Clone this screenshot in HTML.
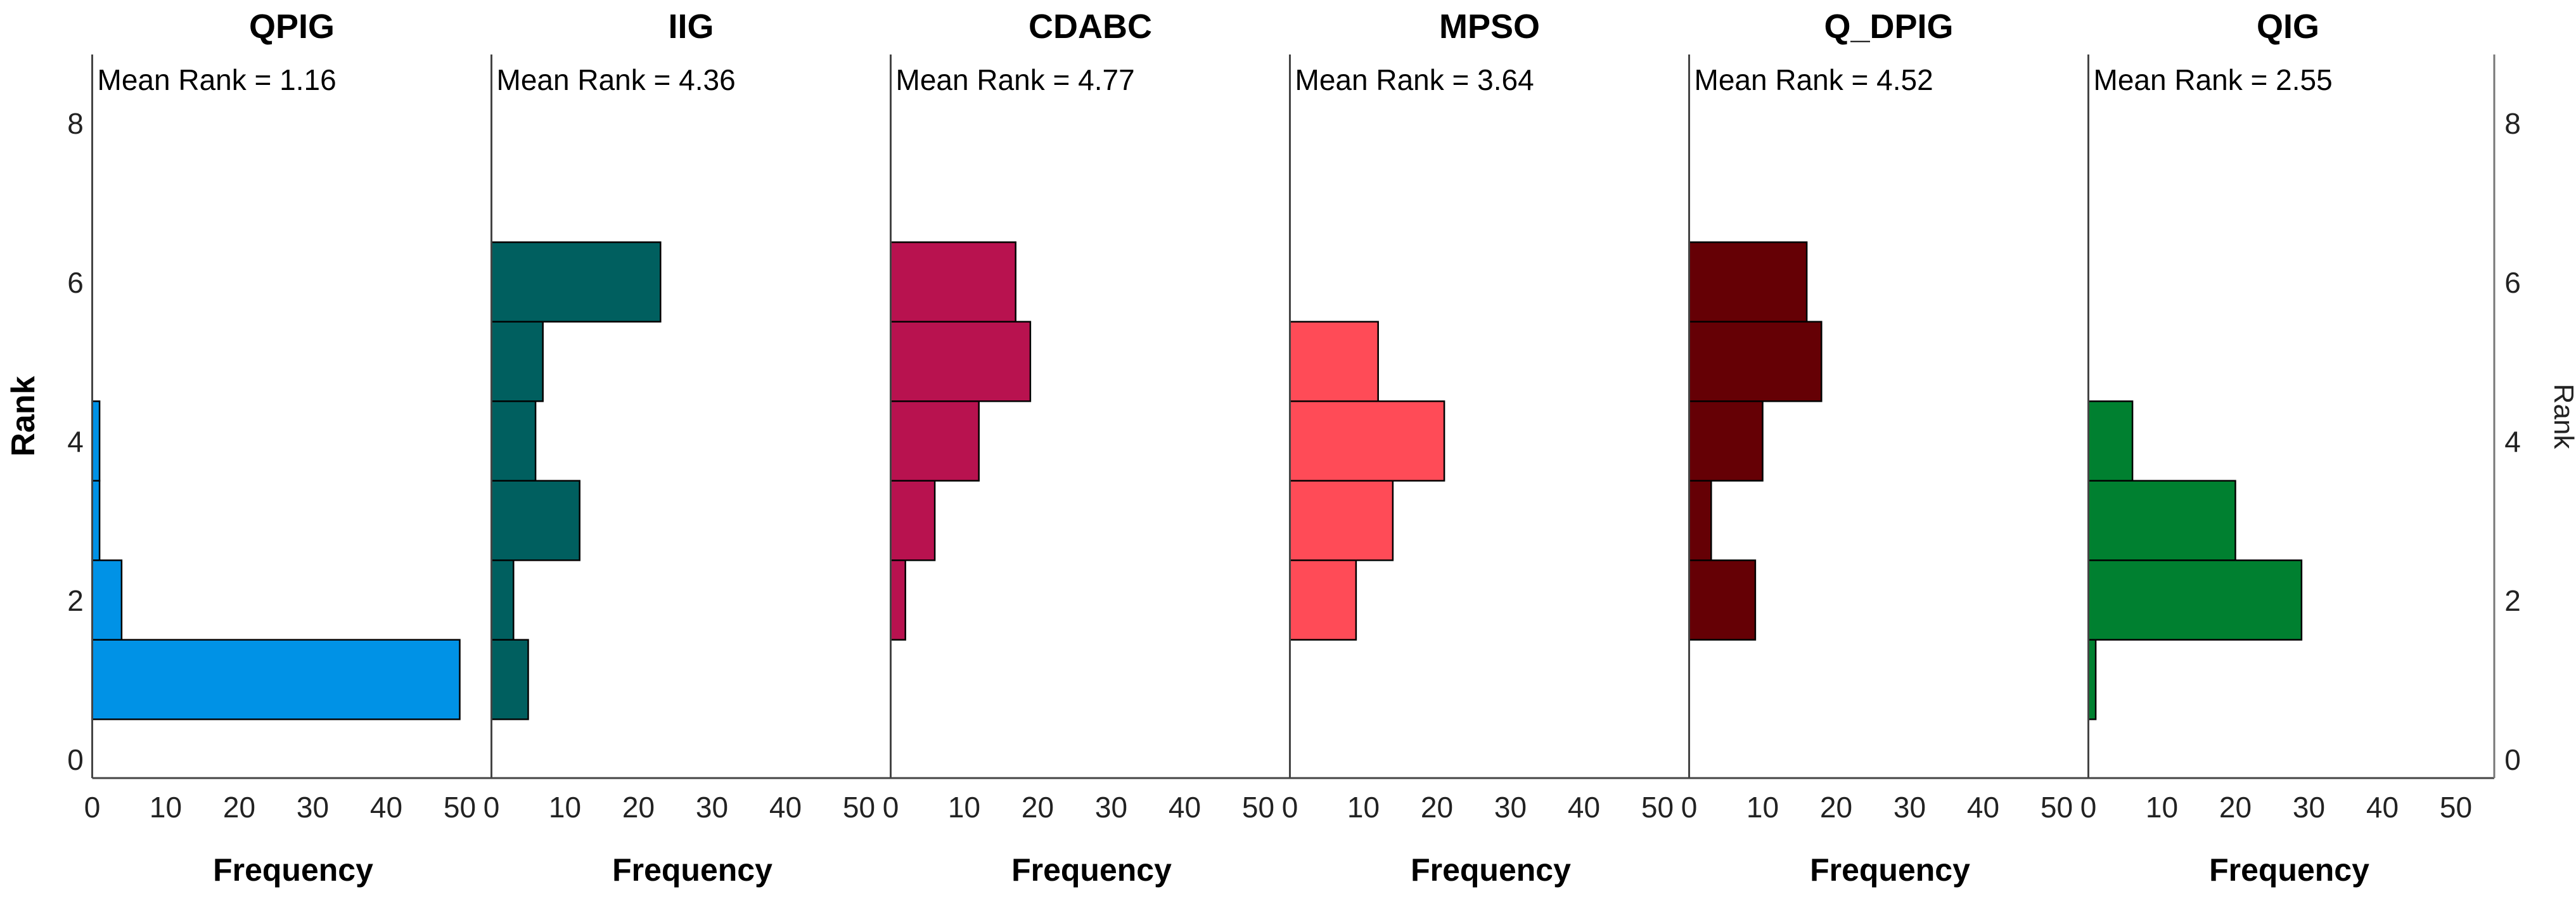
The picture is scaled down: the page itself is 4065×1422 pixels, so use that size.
<!DOCTYPE html>
<html><head><meta charset="utf-8"><style>
html,body{margin:0;padding:0;background:#fff;}
svg{display:block;font-family:"Liberation Sans",sans-serif;}
</style></head><body>
<svg id="chart" width="4065" height="1422" viewBox="0 0 4065 1422" xmlns="http://www.w3.org/2000/svg"></svg>
<script>
const methods = ["QPIG","IIG","CDABC","MPSO","Q_DPIG","QIG"];
const meanRanks = ["1.16","4.36","4.77","3.64","4.52","2.55"];
const colors = ["#0092e6","#005f5f","#b8124f","#ff4b57","#650005","#008030"];
const ranks = [1,2,3,4,5,6];
const freqQPIG = [50,4,1,1,0,0];
const freqIIG = [5,3,12,6,7,23];
const freqCDABC = [0,2,6,12,19,17];
const freqMPSO = [0,9,14,21,12,0];
const freqQDPIG = [0,9,3,10,18,16];
const freqQIG = [1,29,20,6,0,0];
const xTicks = [0,10,20,30,40,50];
const yTicks = [0,2,4,6,8];

const series = [freqQPIG,freqIIG,freqCDABC,freqMPSO,freqQDPIG,freqQIG];
const svg = document.getElementById('chart');
const NS = "http://www.w3.org/2000/svg";
const panelX0 = 145.5, panelStep = 630, pxPerUnit = 11.6;
const rankY0 = 1198, pxPerRank = 125.5;
const axisTop = 86, axisBottom = 1228, rightAxisX = 3936;
function xs(i, v){ return panelX0 + i*panelStep + v*pxPerUnit; }
function ys(r){ return rankY0 - r*pxPerRank; }
function mk(tag, attrs, text){
  const e = document.createElementNS(NS, tag);
  for (const k in attrs) e.setAttribute(k, attrs[k]);
  if (text !== undefined) e.textContent = text;
  svg.appendChild(e);
  return e;
}
let e;
series.forEach((vals, i) => {
  vals.forEach((v, j) => {
    if (v <= 0) return;
    e = mk('rect', {x: xs(i,0), y: ys(ranks[j]+0.5), width: xs(i,v)-xs(i,0), height: pxPerRank, fill: colors[i], stroke: '#000', 'stroke-width': 2.5});
    
    
  });
});
methods.forEach((m, i) => {
  e = mk('line', {x1: xs(i,0), x2: xs(i,0), y1: axisTop, y2: axisBottom, stroke: '#444', 'stroke-width': 3});
  
  
  e = mk('text', {x: xs(i,0)+315, y: 60, 'font-size': 54, 'font-weight': 'bold', 'text-anchor': 'middle', fill: '#000'}, m);
  
  
  e = mk('text', {x: xs(i,0)+8, y: 142, 'font-size': 46, fill: '#000'}, 'Mean Rank = ' + meanRanks[i]);
  
  
  xTicks.forEach(t => {
    e = mk('text', {x: xs(i,t), y: 1290, 'font-size': 46, 'text-anchor': 'middle', fill: '#222'}, String(t));
    
    
  });
  e = mk('text', {x: xs(i,0)+317, y: 1390, 'font-size': 50, 'font-weight': 'bold', 'text-anchor': 'middle', fill: '#000'}, 'Frequency');
  
  
});
e = mk('line', {x1: panelX0, x2: rightAxisX, y1: axisBottom, y2: axisBottom, stroke: '#444', 'stroke-width': 3});


e = mk('line', {x1: rightAxisX, x2: rightAxisX, y1: axisTop, y2: axisBottom, stroke: '#777', 'stroke-width': 3});


yTicks.forEach(t => {
  e = mk('text', {x: 119, y: ys(t)+17, 'font-size': 46, 'text-anchor': 'middle', fill: '#222'}, String(t));
  
  
  e = mk('text', {x: 3965, y: ys(t)+17, 'font-size': 46, 'text-anchor': 'middle', fill: '#222'}, String(t));
  
  
});
e = mk('text', {x: 0, y: 0, 'font-size': 52, 'font-weight': 'bold', 'text-anchor': 'middle', fill: '#000', transform: 'translate(54,657) rotate(-90)'}, 'Rank');


e = mk('text', {x: 0, y: 0, 'font-size': 44, 'text-anchor': 'middle', fill: '#222', transform: 'translate(4031,657) rotate(90)'}, 'Rank');


</script>
</body></html>
